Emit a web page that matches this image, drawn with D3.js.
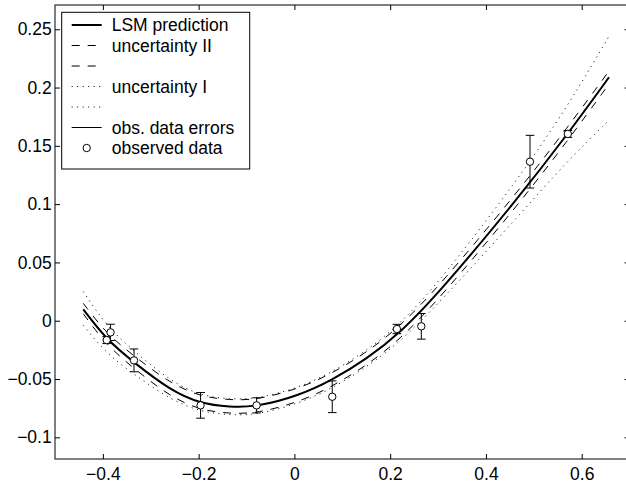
<!DOCTYPE html>
<html>
<head>
<meta charset="utf-8">
<script src="https://cdn.jsdelivr.net/npm/d3@7"></script>
<style>
  body { margin: 0; background: #fff; }
  svg { display: block; font-family: "Liberation Sans", Arial, sans-serif; }
</style>
</head>
<body>
<script>
// values
var curveX = [-0.441, -0.392, -0.333, -0.26, -0.196, -0.135, -0.079, 0.011, 0.079, 0.15, 0.22, 0.304, 0.464, 0.571, 0.657];
var lsmY   = [0.0098, -0.0166, -0.0365, -0.0594, -0.0712, -0.0740, -0.0740, -0.0640, -0.0509, -0.0331, -0.0108, 0.0249, 0.1035, 0.1602, 0.2088];
var unc2Hi = [0.0149, -0.0114, -0.0309, -0.0535, -0.0652, -0.0680, -0.0680, -0.0581, -0.0451, -0.0274, -0.0052, 0.0304, 0.1092, 0.1660, 0.2142];
var unc2Lo = [0.0060, -0.0212, -0.0417, -0.0650, -0.0768, -0.0796, -0.0796, -0.0696, -0.0564, -0.0386, -0.0163, 0.0194, 0.0978, 0.1545, 0.2030];
var unc1Hi = [0.0250, -0.0050, -0.0268, -0.0515, -0.0645, -0.0672, -0.0672, -0.0573, -0.0440, -0.0260, -0.0033, 0.0340, 0.1195, 0.1840, 0.2440];
var unc1Lo = [-0.0040, -0.0285, -0.0465, -0.0675, -0.0782, -0.0809, -0.0809, -0.0708, -0.0580, -0.0400, -0.0185, 0.0160, 0.0880, 0.1375, 0.1720];

var obsX   = [-0.392, -0.384, -0.335, -0.196, -0.079, 0.079, 0.214, 0.265, 0.492, 0.571];
var obsY   = [-0.0166, -0.0100, -0.0340, -0.0726, -0.0726, -0.0652, -0.0071, -0.0048, 0.1364, 0.1602];
var obsErr = [0.003, 0.007, 0.0098, 0.011, 0.0065, 0.0136, 0.004, 0.011, 0.0226, 0.003];

var xTicks = [-0.4, -0.2, 0, 0.2, 0.4, 0.6];
var xTickLabels = ["\u22120.4", "\u22120.2", "0", "0.2", "0.4", "0.6"];
var yTicks = [-0.1, -0.05, 0, 0.05, 0.1, 0.15, 0.2, 0.25];
var yTickLabels = ["\u22120.1", "\u22120.05", "0", "0.05", "0.1", "0.15", "0.2", "0.25"];

var legendLabels = ["LSM prediction", "uncertainty II", "", "uncertainty I", "", "obs. data errors", "observed data"];

var W = 626, H = 484;
var box = {left: 55, right: 629.6, top: 5, bottom: 459};

var x = d3.scaleLinear().domain([-0.5, 0.7]).range([box.left, box.right]);
var y = d3.scaleLinear().domain([-0.1186, 0.2708]).range([box.bottom, box.top]);

var svg = d3.select("body").append("svg")
    .attr("width", W)
    .attr("height", H);

var fs = "17.5px";

// axes (ticks point inward like matlab)
svg.append("g")
    .attr("transform", "translate(0," + box.bottom + ")")
    .call(d3.axisBottom(x).tickValues(xTicks).tickFormat(function(d, i){ return xTickLabels[i]; })
        .tickSizeInner(-5).tickSizeOuter(0).tickPadding(8.6))
    .call(function(g){ g.select(".domain").remove(); })
    .selectAll("text").style("font-size", fs).attr("fill", "#000");

svg.append("g")
    .attr("transform", "translate(0," + box.top + ")")
    .call(d3.axisTop(x).tickValues(xTicks).tickFormat("").tickSizeInner(-5).tickSizeOuter(0))
    .call(function(g){ g.select(".domain").remove(); });

svg.append("g")
    .attr("transform", "translate(" + box.left + ",0)")
    .call(d3.axisLeft(y).tickValues(yTicks).tickFormat(function(d, i){ return yTickLabels[i]; })
        .tickSizeInner(-5).tickSizeOuter(0).tickPadding(3.3))
    .call(function(g){ g.select(".domain").remove(); })
    .selectAll("text").style("font-size", fs).attr("fill", "#000");

svg.append("g")
    .attr("transform", "translate(" + box.right + ",0)")
    .call(d3.axisRight(y).tickValues(yTicks).tickFormat("").tickSizeInner(-5).tickSizeOuter(0))
    .call(function(g){ g.select(".domain").remove(); });

svg.selectAll(".tick line").attr("stroke", "#000");

svg.append("rect")
    .attr("x", box.left).attr("y", box.top)
    .attr("width", box.right - box.left).attr("height", box.bottom - box.top)
    .attr("fill", "none").attr("stroke", "#000").attr("stroke-width", 1);

// curves
var line = d3.line()
    .x(function(d){ return x(d[0]); })
    .y(function(d){ return y(d[1]); })
    .curve(d3.curveBasis);

function pairs(ys){ return curveX.map(function(v, i){ return [v, ys[i]]; }); }

var curves = [
    {ys: unc1Hi, dash: "1,4.5", w: 1},
    {ys: unc1Lo, dash: "1,4.5", w: 1},
    {ys: unc2Hi, dash: "8,8", w: 1},
    {ys: unc2Lo, dash: "8,8", w: 1},
    {ys: lsmY, dash: null, w: 2}
];

svg.append("g").selectAll("path")
    .data(curves)
    .join("path")
    .attr("d", function(c){ return line(pairs(c.ys)); })
    .attr("fill", "none")
    .attr("stroke", "#000")
    .attr("stroke-width", function(c){ return c.w; })
    .attr("stroke-dasharray", function(c){ return c.dash; });

// error bars
var obs = obsX.map(function(v, i){ return {x: v, y: obsY[i], e: obsErr[i]}; });
var eb = svg.append("g").attr("stroke", "#000").attr("stroke-width", 1);
var cap = 4.3;
obs.forEach(function(d){
    var cx = x(d.x), yt = y(d.y + d.e), yb = y(d.y - d.e);
    eb.append("line").attr("x1", cx).attr("x2", cx).attr("y1", yt).attr("y2", yb);
    eb.append("line").attr("x1", cx - cap).attr("x2", cx + cap).attr("y1", yt).attr("y2", yt);
    eb.append("line").attr("x1", cx - cap).attr("x2", cx + cap).attr("y1", yb).attr("y2", yb);
});

svg.append("g").selectAll("circle")
    .data(obs)
    .join("circle")
    .attr("cx", function(d){ return x(d.x); })
    .attr("cy", function(d){ return y(d.y); })
    .attr("r", 3.7)
    .attr("fill", "#fff")
    .attr("stroke", "#000")
    .attr("stroke-width", 1);

// legend
var lg = svg.append("g");
lg.append("rect")
    .attr("x", 61.7).attr("y", 12.3).attr("width", 188).attr("height", 156.7)
    .attr("fill", "#fff").attr("stroke", "#000").attr("stroke-width", 1);

var legendStyles = [
    {dash: null, w: 2}, {dash: "8,8", w: 1}, {dash: "8,8", w: 1},
    {dash: "1,4.5", w: 1}, {dash: "1,4.5", w: 1}, {dash: null, w: 1}, {marker: true}
];

legendLabels.forEach(function(lab, i){
    var cy = 25 + i * 20.5;
    var st = legendStyles[i];
    if (st.marker) {
        lg.append("circle").attr("cx", 86.7).attr("cy", cy).attr("r", 3.7)
            .attr("fill", "#fff").attr("stroke", "#000");
    } else {
        lg.append("line").attr("x1", 71.7).attr("x2", 101.7).attr("y1", cy).attr("y2", cy)
            .attr("stroke", "#000").attr("stroke-width", st.w)
            .attr("stroke-dasharray", st.dash);
    }
    lg.append("text").attr("x", 111.7).attr("y", cy).attr("dy", "0.35em")
        .style("font-size", fs).text(lab);
});
</script>
</body>
</html>
